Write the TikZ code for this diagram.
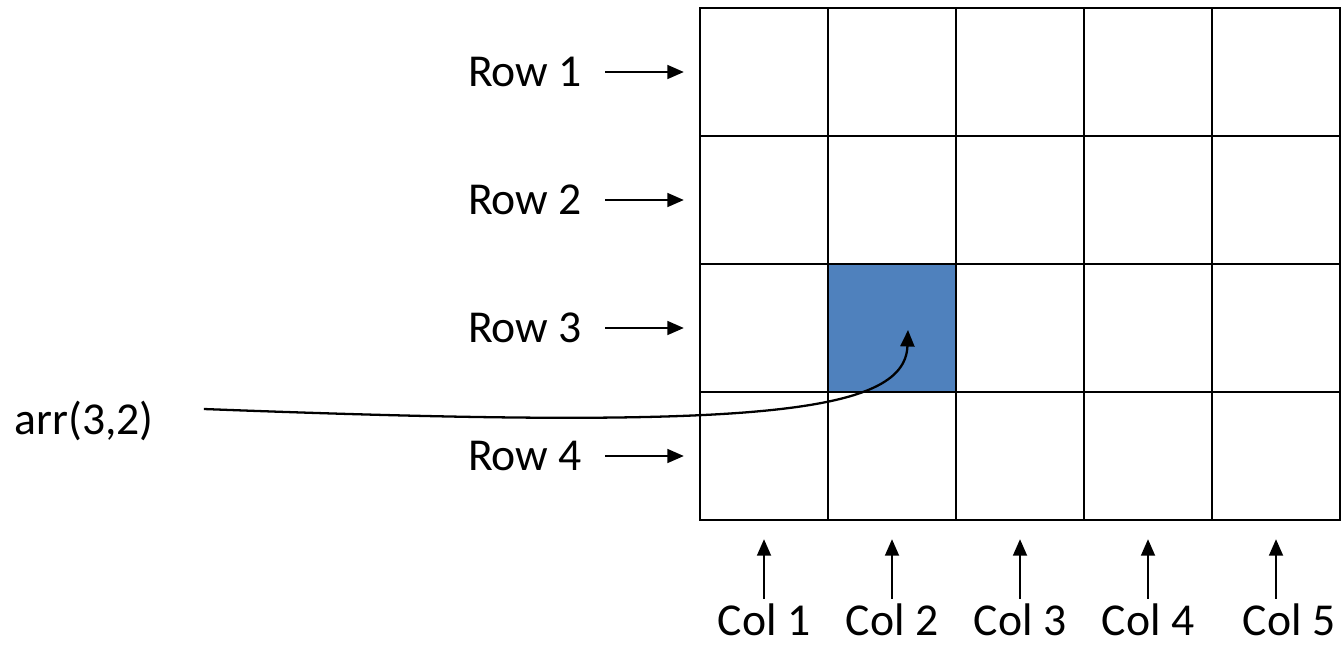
\documentclass[tikz,border=0pt]{standalone}
\usepackage{fontspec}
\setmainfont{Carlito}
\usetikzlibrary{arrows.meta,shapes}
\definecolor{cellblue}{RGB}{79,129,189}
\tikzstyle{cell}=[draw,line width=1.4pt,minimum size=2.56cm,inner sep=0pt]
\tikzstyle{selected cell} = [cell, fill=cellblue]
\tikzstyle{tag}=[font=\fontsize{26}{31}\selectfont,inner sep=0pt]
\tikzstyle{pointer} = [draw,line width=1pt,-{Triangle[length=0.33cm,width=0.28cm]}]

\begin{document}
\begin{tikzpicture}[x=0.02cm,y=-0.02cm]
    \useasboundingbox (0,0) rectangle (1341,646);
    % First we draw the cells of the 4x5 array
    \foreach \r in {1,...,4}
        \foreach \c in {1,...,5}
            \node[cell] (c\r\c) at ({700+128*(\c-0.5)},{8+128*(\r-0.5)}) {};
    % the element arr(3,2)
    \node[selected cell] (c32) at (892,328) {};

    % Row and column names
    \foreach \r in {1,...,4}
        \node[tag] (row\r) at (525,{8+128*(\r-0.5)}) {Row \r};
    \foreach \c/\x in {1/764, 2/892, 3/1020, 4/1148, 5/1289}
        \node[tag] (col\c) at (\x,620) {Col \c};
    \node[tag] (arrlbl) at (84,421) {arr(3,2)};

    % Connect names with the array
    \foreach \r in {1,...,4}
        \path[pointer,shorten <=0.46cm,shorten >=0.3cm] (row\r) -- (c\r1);
    \foreach \c in {1,...,5}
        \path[pointer,shorten <=0.1cm,shorten >=0.36cm] (col\c.north -| c4\c) -- (c4\c.south);
    \path[pointer,line width=1.3pt] ([shift={(50,-12)}]arrlbl.east) .. controls +(545,21) and +(-3,85) .. ([shift={(16,2)}]c32.center);
\end{tikzpicture}
\end{document}
